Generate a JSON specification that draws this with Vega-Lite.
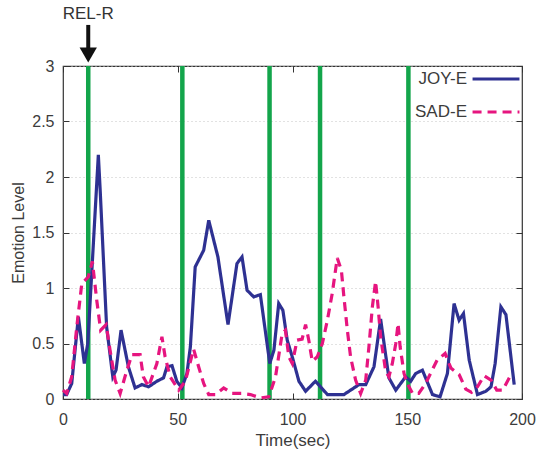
{
  "$schema": "https://vega.github.io/schema/vega-lite/v6.json",
  "width": 459,
  "height": 333,
  "autosize": {"type": "none"},
  "padding": {"left": 63, "top": 66, "right": 21, "bottom": 51},
  "background": "white",
  "config": {
    "font": "Liberation Sans",
    "view": {"stroke": "#333", "strokeWidth": 1.2},
    "axis": {
      "labelFont": "Liberation Sans",
      "titleFont": "Liberation Sans",
      "labelFontSize": 16,
      "labelColor": "#3c3c3c",
      "titleColor": "#3c3c3c",
      "titleFontWeight": "normal",
      "tickColor": "#333",
      "tickSize": -6,
      "labelFlush": false,
      "domain": false,
      "grid": false
    },
    "legend": {
      "labelFont": "Liberation Sans",
      "labelFontSize": 17,
      "labelColor": "#3c3c3c",
      "padding": 0
    }
  },
  "datasets": {
    "emotion": [
      {"t": 0, "v": 0.04, "s": "JOY-E"}, {"t": 1.6, "v": 0.04, "s": "JOY-E"}, {"t": 3.8, "v": 0.14, "s": "JOY-E"},
      {"t": 6.7, "v": 0.74, "s": "JOY-E"}, {"t": 9.3, "v": 0.32, "s": "JOY-E"}, {"t": 10.8, "v": 0.5, "s": "JOY-E"},
      {"t": 15.4, "v": 2.2, "s": "JOY-E"}, {"t": 16.2, "v": 1.88, "s": "JOY-E"}, {"t": 19, "v": 0.65, "s": "JOY-E"},
      {"t": 21.7, "v": 0.2, "s": "JOY-E"}, {"t": 23.1, "v": 0.26, "s": "JOY-E"}, {"t": 25.3, "v": 0.62, "s": "JOY-E"},
      {"t": 28.5, "v": 0.29, "s": "JOY-E"}, {"t": 31.4, "v": 0.1, "s": "JOY-E"}, {"t": 34.4, "v": 0.13, "s": "JOY-E"},
      {"t": 37.3, "v": 0.11, "s": "JOY-E"}, {"t": 40.9, "v": 0.16, "s": "JOY-E"}, {"t": 43.8, "v": 0.19, "s": "JOY-E"},
      {"t": 45.3, "v": 0.29, "s": "JOY-E"}, {"t": 47.5, "v": 0.3, "s": "JOY-E"}, {"t": 49.6, "v": 0.16, "s": "JOY-E"},
      {"t": 51.8, "v": 0.1, "s": "JOY-E"}, {"t": 54, "v": 0.23, "s": "JOY-E"}, {"t": 55.5, "v": 0.47, "s": "JOY-E"},
      {"t": 57.6, "v": 1.19, "s": "JOY-E"}, {"t": 61.3, "v": 1.34, "s": "JOY-E"}, {"t": 63.5, "v": 1.61, "s": "JOY-E"},
      {"t": 67.5, "v": 1.28, "s": "JOY-E"}, {"t": 71.9, "v": 0.67, "s": "JOY-E"}, {"t": 75.8, "v": 1.22, "s": "JOY-E"},
      {"t": 78, "v": 1.28, "s": "JOY-E"}, {"t": 80.2, "v": 0.98, "s": "JOY-E"}, {"t": 83.1, "v": 0.92, "s": "JOY-E"},
      {"t": 86, "v": 0.94, "s": "JOY-E"}, {"t": 90.1, "v": 0.32, "s": "JOY-E"}, {"t": 91.9, "v": 0.44, "s": "JOY-E"},
      {"t": 94, "v": 0.86, "s": "JOY-E"}, {"t": 95.8, "v": 0.8, "s": "JOY-E"}, {"t": 97.7, "v": 0.53, "s": "JOY-E"},
      {"t": 99.9, "v": 0.38, "s": "JOY-E"}, {"t": 102.8, "v": 0.16, "s": "JOY-E"}, {"t": 105.7, "v": 0.07, "s": "JOY-E"},
      {"t": 110, "v": 0.16, "s": "JOY-E"}, {"t": 112.2, "v": 0.11, "s": "JOY-E"}, {"t": 115.2, "v": 0.04, "s": "JOY-E"},
      {"t": 122.4, "v": 0.04, "s": "JOY-E"}, {"t": 126.8, "v": 0.1, "s": "JOY-E"}, {"t": 129, "v": 0.13, "s": "JOY-E"},
      {"t": 131.9, "v": 0.13, "s": "JOY-E"}, {"t": 135.5, "v": 0.29, "s": "JOY-E"}, {"t": 138.4, "v": 0.72, "s": "JOY-E"},
      {"t": 142, "v": 0.19, "s": "JOY-E"}, {"t": 145, "v": 0.08, "s": "JOY-E"}, {"t": 149.3, "v": 0.2, "s": "JOY-E"},
      {"t": 151.5, "v": 0.16, "s": "JOY-E"}, {"t": 153.7, "v": 0.23, "s": "JOY-E"}, {"t": 156.6, "v": 0.26, "s": "JOY-E"},
      {"t": 161, "v": 0.04, "s": "JOY-E"}, {"t": 164.3, "v": 0.02, "s": "JOY-E"}, {"t": 167.5, "v": 0.23, "s": "JOY-E"},
      {"t": 170.4, "v": 0.86, "s": "JOY-E"}, {"t": 172.6, "v": 0.71, "s": "JOY-E"}, {"t": 174.5, "v": 0.77, "s": "JOY-E"},
      {"t": 177, "v": 0.35, "s": "JOY-E"}, {"t": 180.6, "v": 0.04, "s": "JOY-E"}, {"t": 184.3, "v": 0.07, "s": "JOY-E"},
      {"t": 186.5, "v": 0.11, "s": "JOY-E"}, {"t": 188.3, "v": 0.32, "s": "JOY-E"}, {"t": 190.8, "v": 0.83, "s": "JOY-E"},
      {"t": 193, "v": 0.76, "s": "JOY-E"}, {"t": 196.6, "v": 0.13, "s": "JOY-E"},

      {"t": 0, "v": 0.08, "s": "SAD-E"}, {"t": 1.6, "v": 0.05, "s": "SAD-E"}, {"t": 3.8, "v": 0.2, "s": "SAD-E"},
      {"t": 6, "v": 0.65, "s": "SAD-E"}, {"t": 8.2, "v": 1.04, "s": "SAD-E"}, {"t": 11, "v": 1.1, "s": "SAD-E"},
      {"t": 12.8, "v": 1.24, "s": "SAD-E"}, {"t": 14.7, "v": 0.89, "s": "SAD-E"}, {"t": 16.4, "v": 0.62, "s": "SAD-E"},
      {"t": 18.8, "v": 0.67, "s": "SAD-E"}, {"t": 20.5, "v": 0.44, "s": "SAD-E"}, {"t": 22.7, "v": 0.17, "s": "SAD-E"},
      {"t": 24.9, "v": 0.05, "s": "SAD-E"}, {"t": 27, "v": 0.2, "s": "SAD-E"}, {"t": 30, "v": 0.4, "s": "SAD-E"},
      {"t": 33.6, "v": 0.4, "s": "SAD-E"}, {"t": 35, "v": 0.2, "s": "SAD-E"}, {"t": 37.3, "v": 0.11, "s": "SAD-E"},
      {"t": 40.9, "v": 0.32, "s": "SAD-E"}, {"t": 43.1, "v": 0.56, "s": "SAD-E"}, {"t": 44.5, "v": 0.38, "s": "SAD-E"},
      {"t": 46.7, "v": 0.2, "s": "SAD-E"}, {"t": 50.4, "v": 0.08, "s": "SAD-E"}, {"t": 53.3, "v": 0.16, "s": "SAD-E"},
      {"t": 56.9, "v": 0.45, "s": "SAD-E"}, {"t": 59.1, "v": 0.29, "s": "SAD-E"}, {"t": 61.3, "v": 0.14, "s": "SAD-E"},
      {"t": 63.5, "v": 0.04, "s": "SAD-E"}, {"t": 66.4, "v": 0.04, "s": "SAD-E"}, {"t": 70, "v": 0.1, "s": "SAD-E"},
      {"t": 73.7, "v": 0.05, "s": "SAD-E"}, {"t": 78, "v": 0.05, "s": "SAD-E"}, {"t": 81.7, "v": 0.04, "s": "SAD-E"},
      {"t": 86, "v": 0.01, "s": "SAD-E"}, {"t": 89.7, "v": 0.02, "s": "SAD-E"}, {"t": 92.6, "v": 0.2, "s": "SAD-E"},
      {"t": 95.5, "v": 0.59, "s": "SAD-E"}, {"t": 96.9, "v": 0.62, "s": "SAD-E"}, {"t": 98.4, "v": 0.38, "s": "SAD-E"},
      {"t": 99.9, "v": 0.32, "s": "SAD-E"}, {"t": 102, "v": 0.53, "s": "SAD-E"}, {"t": 104.2, "v": 0.54, "s": "SAD-E"},
      {"t": 105.7, "v": 0.67, "s": "SAD-E"}, {"t": 107.1, "v": 0.53, "s": "SAD-E"}, {"t": 108.6, "v": 0.34, "s": "SAD-E"},
      {"t": 110.8, "v": 0.38, "s": "SAD-E"}, {"t": 113, "v": 0.5, "s": "SAD-E"}, {"t": 115.2, "v": 0.71, "s": "SAD-E"},
      {"t": 117.3, "v": 0.95, "s": "SAD-E"}, {"t": 119.5, "v": 1.27, "s": "SAD-E"}, {"t": 121.3, "v": 1.16, "s": "SAD-E"},
      {"t": 122.4, "v": 0.92, "s": "SAD-E"}, {"t": 123.9, "v": 0.62, "s": "SAD-E"}, {"t": 125.3, "v": 0.38, "s": "SAD-E"},
      {"t": 127.5, "v": 0.17, "s": "SAD-E"}, {"t": 129.7, "v": 0.05, "s": "SAD-E"}, {"t": 131.9, "v": 0.17, "s": "SAD-E"},
      {"t": 133.3, "v": 0.47, "s": "SAD-E"}, {"t": 134.8, "v": 0.83, "s": "SAD-E"}, {"t": 136.2, "v": 1.06, "s": "SAD-E"},
      {"t": 137.3, "v": 0.83, "s": "SAD-E"}, {"t": 138.4, "v": 0.56, "s": "SAD-E"}, {"t": 140.6, "v": 0.25, "s": "SAD-E"},
      {"t": 142, "v": 0.2, "s": "SAD-E"}, {"t": 143.5, "v": 0.32, "s": "SAD-E"}, {"t": 145, "v": 0.5, "s": "SAD-E"},
      {"t": 146, "v": 0.68, "s": "SAD-E"}, {"t": 146.9, "v": 0.47, "s": "SAD-E"}, {"t": 148.6, "v": 0.23, "s": "SAD-E"},
      {"t": 150, "v": 0.14, "s": "SAD-E"}, {"t": 152.3, "v": 0.05, "s": "SAD-E"}, {"t": 155, "v": 0.05, "s": "SAD-E"},
      {"t": 158, "v": 0.14, "s": "SAD-E"}, {"t": 163, "v": 0.35, "s": "SAD-E"}, {"t": 166.5, "v": 0.41, "s": "SAD-E"},
      {"t": 169, "v": 0.28, "s": "SAD-E"}, {"t": 172.6, "v": 0.22, "s": "SAD-E"}, {"t": 175.5, "v": 0.09, "s": "SAD-E"},
      {"t": 178, "v": 0.06, "s": "SAD-E"}, {"t": 180.6, "v": 0.11, "s": "SAD-E"}, {"t": 183.5, "v": 0.21, "s": "SAD-E"},
      {"t": 186.5, "v": 0.17, "s": "SAD-E"}, {"t": 189, "v": 0.08, "s": "SAD-E"}, {"t": 191.6, "v": 0.08, "s": "SAD-E"},
      {"t": 195.2, "v": 0.22, "s": "SAD-E"}
    ],
    "switches": [
      {"t": 11}, {"t": 52}, {"t": 90}, {"t": 112}, {"t": 150.5}
    ],
    "annotations": [
      {"t": 11, "label": "REL-R"}
    ]
  },
  "layer": [
    {
      "data": {"name": "switches"},
      "mark": {"type": "rule", "color": "#13a54b", "strokeWidth": 4.5},
      "encoding": {
        "x": {
          "field": "t", "type": "quantitative",
          "scale": {"domain": [0, 200]},
          "axis": {"orient": "top", "labels": false, "title": null, "values": [0, 50, 100, 150, 200]}
        }
      }
    },
    {
      "data": {"name": "emotion"},
      "mark": {"type": "line", "strokeWidth": 3.2},
      "encoding": {
        "x": {
          "field": "t", "type": "quantitative",
          "axis": {"orient": "bottom", "title": "Time(sec)", "titleFontSize": 17, "values": [0, 50, 100, 150, 200], "labelPadding": 18, "titlePadding": 5}
        },
        "y": {
          "field": "v", "type": "quantitative",
          "scale": {"domain": [0, 3]},
          "axis": {
            "orient": "left", "title": "Emotion Level", "titleFontSize": 16, "format": "~g",
            "values": [0, 0.5, 1, 1.5, 2, 2.5, 3], "labelPadding": 15, "titlePadding": 5,
            "grid": true, "gridColor": "#c4c4c4", "gridDash": [1, 3], "gridWidth": 1
          }
        },
        "color": {
          "field": "s", "type": "nominal",
          "scale": {"domain": ["JOY-E", "SAD-E"], "range": ["#2e3192", "#e6157f"]},
          "legend": {
            "orient": "none", "legendX": 408, "legendY": -12, "title": null, "symbolType": "stroke",
            "symbolSize": 2200, "symbolStrokeWidth": 3, "labelAlign": "right", "labelOffset": -54, "rowPadding": -18
          }
        },
        "strokeDash": {
          "field": "s", "type": "nominal",
          "scale": {"domain": ["JOY-E", "SAD-E"], "range": [[1, 0], [9, 6]]},
          "legend": {
            "orient": "none", "legendX": 408, "legendY": -12, "title": null, "symbolType": "stroke",
            "symbolSize": 2200, "symbolStrokeWidth": 3, "labelAlign": "right", "labelOffset": -54, "rowPadding": -18
          }
        }
      }
    },
    {
      "data": {"name": "annotations"},
      "mark": {"type": "text", "fontSize": 17, "color": "#333", "font": "Liberation Sans"},
      "encoding": {
        "x": {"field": "t", "type": "quantitative", "axis": null},
        "y": {"datum": 3.47, "type": "quantitative", "axis": {"orient": "right", "labels": false, "title": null, "values": [0, 0.5, 1, 1.5, 2, 2.5, 3]}},
        "text": {"field": "label"}
      }
    },
    {
      "data": {"name": "annotations"},
      "mark": {"type": "rule", "color": "#111", "strokeWidth": 4},
      "encoding": {
        "x": {"field": "t", "type": "quantitative", "axis": null},
        "y": {"datum": 3.37, "type": "quantitative", "axis": null},
        "y2": {"datum": 3.12}
      }
    },
    {
      "data": {"name": "annotations"},
      "mark": {"type": "point", "shape": "triangle-down", "filled": true, "color": "#111", "size": 300, "opacity": 1},
      "encoding": {
        "x": {"field": "t", "type": "quantitative", "axis": null},
        "y": {"datum": 3.1, "type": "quantitative", "axis": null}
      }
    }
  ],
  "resolve": {"axis": {"x": "independent", "y": "independent"}}
}
